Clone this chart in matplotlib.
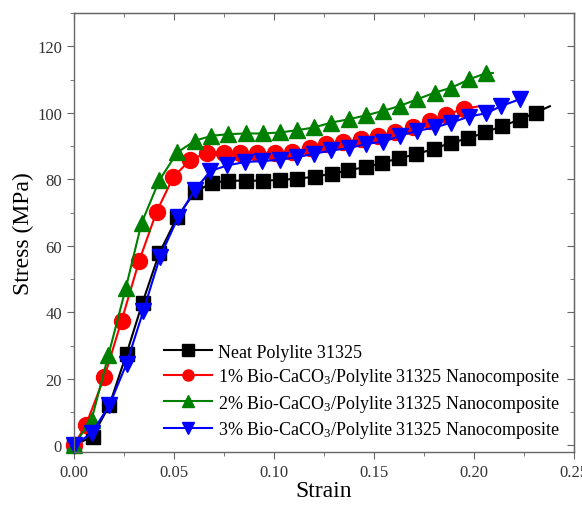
import matplotlib
matplotlib.use("Agg")
import matplotlib.pyplot as plt
from matplotlib.ticker import MultipleLocator, FormatStrFormatter

plt.rcParams['font.family'] = ['Liberation Serif', 'DejaVu Serif']
plt.rcParams['mathtext.fontset'] = 'custom'
plt.rcParams['mathtext.rm'] = 'Liberation Serif'

# Data
strain_neat = [0.0, 0.0093, 0.0177, 0.0263, 0.0343, 0.0427, 0.0517, 0.0605, 0.0689, 0.0772,
               0.0860, 0.0944, 0.1030, 0.1117, 0.1205, 0.1289, 0.1370, 0.1459, 0.1540, 0.1627,
               0.1710, 0.1800, 0.1885, 0.1970, 0.2055, 0.2140, 0.2230, 0.2310, 0.2380]
stress_neat = [0.0, 2.6, 12.0, 27.5, 42.9, 57.8, 68.7, 76.2, 78.9, 79.6,
               79.6, 79.6, 79.8, 80.2, 80.8, 81.7, 82.7, 83.7, 84.9, 86.4,
               87.5, 89.2, 91.0, 92.3, 94.1, 96.0, 98.0, 100.1, 102.0]

strain_1 = [0.0, 0.0060, 0.0152, 0.0238, 0.0326, 0.0413, 0.0497, 0.0583, 0.0667, 0.0750,
            0.0833, 0.0917, 0.1005, 0.1093, 0.1180, 0.1263, 0.1347, 0.1435, 0.1522, 0.1608,
            0.1697, 0.1780, 0.1863, 0.1950, 0.2030]
stress_1 = [0.0, 6.1, 20.5, 37.4, 55.4, 70.2, 80.7, 85.9, 88.0, 88.0,
            88.0, 88.0, 88.0, 88.2, 89.5, 90.7, 91.3, 92.1, 93.1, 94.3,
            95.8, 97.6, 99.4, 101.3, 102.0]

strain_2 = [0.0, 0.0088, 0.0172, 0.0260, 0.0338, 0.0427, 0.0517, 0.0605, 0.0688, 0.0772,
            0.0860, 0.0947, 0.1030, 0.1117, 0.1200, 0.1288, 0.1377, 0.1463, 0.1547, 0.1630,
            0.1717, 0.1805, 0.1888, 0.1977, 0.2063, 0.2095]
stress_2 = [0.0, 7.6, 27.0, 47.4, 66.8, 79.7, 88.1, 91.6, 93.1, 93.6,
            93.8, 93.8, 94.1, 94.8, 95.6, 97.1, 98.1, 99.3, 100.6, 102.1,
            104.1, 106.1, 107.6, 110.1, 112.0, 112.0]

strain_3 = [0.0, 0.0088, 0.0177, 0.0263, 0.0347, 0.0430, 0.0522, 0.0605, 0.0683, 0.0767,
            0.0855, 0.0943, 0.1030, 0.1117, 0.1200, 0.1288, 0.1377, 0.1463, 0.1547, 0.1630,
            0.1717, 0.1805, 0.1888, 0.1977, 0.2063, 0.2138, 0.2230]
stress_3 = [0.0, 3.6, 12.0, 24.5, 40.4, 56.6, 68.7, 76.9, 82.5, 84.2,
            85.2, 85.5, 85.9, 86.7, 87.7, 88.7, 89.4, 90.7, 91.3, 93.1,
            94.6, 95.6, 97.1, 98.9, 99.9, 102.1, 104.1]

labels = ['Neat Polylite 31325',
          r'1% Bio-CaCO$\mathregular{_3}$/Polylite 31325 Nanocomposite',
          r'2% Bio-CaCO$\mathregular{_3}$/Polylite 31325 Nanocomposite',
          r'3% Bio-CaCO$\mathregular{_3}$/Polylite 31325 Nanocomposite']

fig = plt.figure(figsize=(5.82, 5.06), dpi=100)
ax = fig.add_axes([0.127, 0.105, 0.859, 0.867])

series = [
    (strain_neat, stress_neat, 'black', 's', 10, 1),    # last point is line end only
    (strain_1, stress_1, 'red', 'o', 11.5, 1),
    (strain_2, stress_2, 'green', '^', 12, 1),
    (strain_3, stress_3, 'blue', 'v', 12, 0),
]
for (x, y, c, m, ms, extra), lab in zip(series, labels):
    n = len(x) - extra
    ax.plot(x, y, color=c, marker=m, markersize=ms, linewidth=1.5,
            markevery=list(range(n)), label=lab, clip_on=False)

ax.set_xlim(0, 0.25)
ax.set_ylim(-2, 130)
ax.xaxis.set_major_locator(MultipleLocator(0.05))
ax.xaxis.set_minor_locator(MultipleLocator(0.025))
ax.yaxis.set_major_locator(MultipleLocator(20))
ax.yaxis.set_minor_locator(MultipleLocator(10))
ax.xaxis.set_major_formatter(FormatStrFormatter('%.2f'))
ax.set_yticks([0, 20, 40, 60, 80, 100, 120])

spine_col = '#666666'
for s in ax.spines.values():
    s.set_color(spine_col)
    s.set_linewidth(1.0)

ax.tick_params(which='both', bottom=True, left=True, top=False, right=False,
               direction='out', color=spine_col, labelsize=12, labelcolor='#333333')
ax.tick_params(which='major', length=5)
ax.tick_params(which='minor', length=3)
axt = ax.secondary_xaxis('top')
axt.xaxis.set_major_locator(MultipleLocator(0.05))
axt.xaxis.set_minor_locator(MultipleLocator(0.025))
axt.tick_params(which='both', direction='in', color=spine_col, labeltop=False)
axt.tick_params(which='major', length=5)
axt.tick_params(which='minor', length=3)
axt.spines['top'].set_color(spine_col)
axr = ax.secondary_yaxis('right')
axr.yaxis.set_major_locator(MultipleLocator(20))
axr.yaxis.set_minor_locator(MultipleLocator(10))
axr.tick_params(which='both', direction='in', color=spine_col, labelright=False)
axr.tick_params(which='major', length=5)
axr.tick_params(which='minor', length=3)
axr.spines['right'].set_color(spine_col)

ax.set_xlabel('Strain', fontsize=17, labelpad=0)
ax.set_ylabel('Stress (MPa)', fontsize=17, labelpad=2)

leg = ax.legend(loc='upper left', bbox_to_anchor=(0.165, 0.263), frameon=False,
                fontsize=13, numpoints=1, handlelength=2.7, handletextpad=0.3,
                labelspacing=0.3, borderaxespad=0)
for h in leg.legend_handles:
    h.set_markersize(8)

fig.savefig('out.png', dpi=100)
